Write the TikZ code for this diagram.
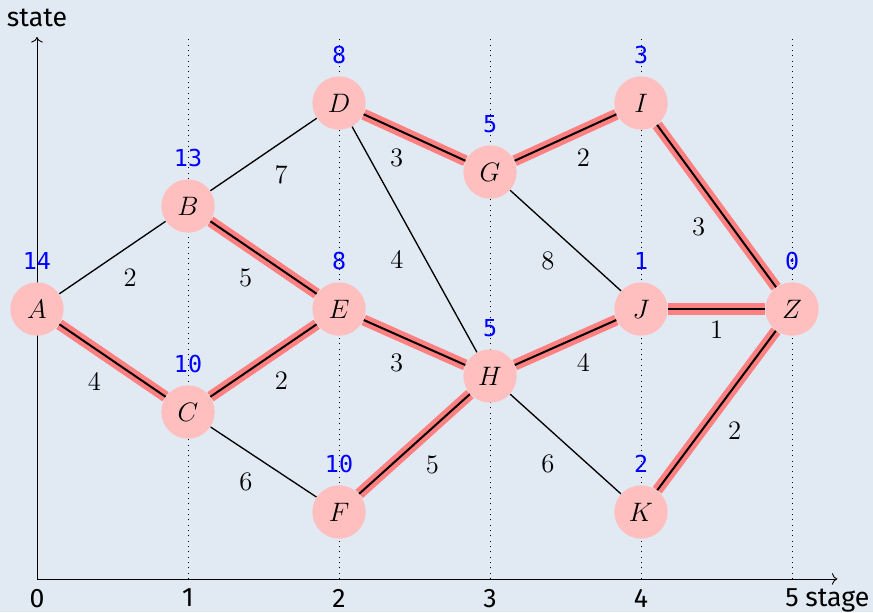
\documentclass[tikz,border=0pt]{standalone}
\usepackage{fontspec}
\setsansfont{Fira Sans}
\setmonofont{DejaVu Sans Mono}
\usepackage{tikz}
\usetikzlibrary{arrows.meta, positioning, calc}
\definecolor{bgblue}{RGB}{225,233,243}

\begin{document}
\begin{tikzpicture}[x=2.388cm, y=1.629cm,
    st/.style={circle, fill=red!25, minimum size=24pt, inner sep=0pt, font=\large},
    val/.style={blue, font=\ttfamily\fontsize{10.5}{12}\selectfont},
    lbl/.style={font=\sffamily\large},
    road/.style={line width=0.6pt},
    best/.style={line width=0.9pt, preaction={draw, red!50, line width=5pt}},
    w/.style={midway, auto=right, inner sep=4.7pt, font=\large}
  ]

    % Background and frame
    \fill[bgblue] (-0.245,-2.942) rectangle (5.536,3.0);
    \useasboundingbox (-0.245,-2.942) rectangle (5.536,3.0);

    % Stage grid
    \foreach \i in {1,...,5}
      \draw[dotted] (\i,-2.62) -- (\i,2.64);

    % Axes
    \draw[->] (0,-2.62) -- (5.3,-2.62) node[lbl, below=1pt] (xlab) {stage};
    \draw[->] (0,-2.62) -- (0,2.64) node[lbl, above=1pt] (ylab) {state};
    \foreach \i in {0,...,5}
      \node[lbl, below=1pt] (s\i) at (\i,-2.62) {\i};

    % Stage 0
    \node[st, label={[val, label distance=2pt]above:14}] (A) at (0, 0) {$A$};

    % Stage 1
    \node[st, label={[val, label distance=2pt]above:13}] (B) at (1, 1) {$B$};
    \node[st, label={[val, label distance=2pt]above:10}] (C) at (1, -1) {$C$};

    % Stage 2
    \node[st, label={[val, label distance=2pt]above:8}] (D) at (2, 2) {$D$};
    \node[st, label={[val, label distance=2pt]above:8}] (E) at (2, 0) {$E$};
    \node[st, label={[val, label distance=2pt]above:10}] (F) at (2, -1.97) {$F$};

    % Stage 3
    \node[st, label={[val, label distance=2pt]above:5}] (G) at (3, 1.33) {$G$};
    \node[st, label={[val, label distance=2pt]above:5}] (H) at (3, -0.65) {$H$};

    % Stage 4
    \node[st, label={[val, label distance=2pt]above:3}] (I) at (4, 2) {$I$};
    \node[st, label={[val, label distance=2pt]above:1}] (J) at (4, 0) {$J$};
    \node[st, label={[val, label distance=2pt]above:2}] (K) at (4, -1.97) {$K$};

    % Stage 5
    \node[st, label={[val, label distance=2pt]above:0}] (Z) at (5, 0) {$Z$};

    % Roads
    \draw[road] (A) -- (B) node[w] {2};
    \draw[best] (A) -- (C) node[w] {4};
    \draw[road] (B) -- (D) node[w] {7};
    \draw[best] (B) -- (E) node[w] {5};
    \draw[best] (C) -- (E) node[w] {2};
    \draw[road] (C) -- (F) node[w] {6};
    \draw[best] (D) -- (G) node[w] {3};
    \draw[road] (D) -- (H) node[w] {4};
    \draw[best] (E) -- (H) node[w] {3};
    \draw[best] (F) -- (H) node[w] {5};
    \draw[best] (G) -- (I) node[w] {2};
    \draw[road] (G) -- (J) node[w] {8};
    \draw[best] (H) -- (J) node[w] {4};
    \draw[road] (H) -- (K) node[w] {6};
    \draw[best] (I) -- (Z) node[w] {3};
    \draw[best] (J) -- (Z) node[w] {1};
    \draw[best] (K) -- (Z) node[w] {2};

  \end{tikzpicture}
\end{document}
